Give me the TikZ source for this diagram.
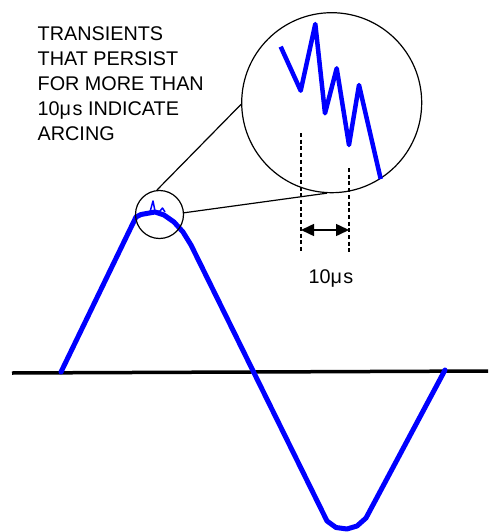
\documentclass[tikz,border=0pt]{standalone}
\usepackage{fontspec}
\setmainfont{Liberation Sans}
\usetikzlibrary{arrows.meta}
\definecolor{wave}{RGB}{0,0,255}
\begin{document}
\begin{tikzpicture}[x=1pt,y=-1pt,
  wavestyle/.style={draw=wave,line width=5pt,line join=round,line cap=round},
  lens/.style={circle,draw=black,line width=1.2pt,inner sep=0pt},
  guide/.style={draw=black,line width=1.2pt},
  dashguide/.style={draw=black,line width=1.3pt,dash pattern=on 4pt off 2.7pt},
  lbl/.style={font=\fontsize{19.8}{25.2}\selectfont,inner sep=0pt}]
\useasboundingbox (0,0) rectangle (488,532);
% axis
\coordinate (axL) at (12,373);
\coordinate (axR) at (488,371);
\draw[line width=3.5pt] (axL) -- (axR);
% sine-like wave
\draw[wavestyle] (61,372) -- (136,217) -- (141,214.5) -- (155,212) -- (164,215) -- (174,222) -- (183,232) -- (191,245)
  -- (327,521) -- (336,527.5) -- (347,529) -- (357,526) -- (366,518) -- (445,370);
% small spikes on top
\draw[draw=wave,line width=1.5pt,line join=round] (150,212) -- (153,201) -- (155,211) -- (160,211) -- (162.5,208) -- (165,212);
% magnifier circles
\node[lens,minimum size=48pt] (zs) at (159.5,214.5) {};
\node[lens,minimum size=180pt] (zb) at (331.7,102.7) {};
\draw[guide] (zs.96) -- (zb.181);
\draw[guide] (zs.4) -- (zb.267);
% zoomed transient
\draw[draw=wave,line width=4.5pt,line join=round] (280.7,46.7) -- (300.7,90.7) -- (315.3,24) -- (325,113.3) -- (336.7,68.3) -- (349,145) -- (359,85) -- (380.7,179);
% dashed markers
\coordinate (d1t) at (301,133);
\coordinate (d1b) at (301,253);
\coordinate (d2t) at (349,168);
\coordinate (d2b) at (349,253);
\draw[dashguide] (d1t) -- (d1b);
\draw[dashguide] (d2t) -- (d2b);
\coordinate (a1) at (301,230);
\coordinate (a2) at (349,230);
\draw[line width=1.5pt,{Triangle[length=13pt,width=12pt]}-{Triangle[length=13pt,width=12pt]}] (a1) -- (a2);
\node[lbl,anchor=base] (dt) at (331,283) {10μ\hspace{1.5pt}s};
% description text
\node[lbl,anchor=north west,align=left] (desc) at (37.5,26) {TRANSIENTS\\THAT PERSIST\\FOR MORE THAN\\10μ\hspace{1.5pt}s INDICATE\\ARCING};
\end{tikzpicture}
\end{document}
